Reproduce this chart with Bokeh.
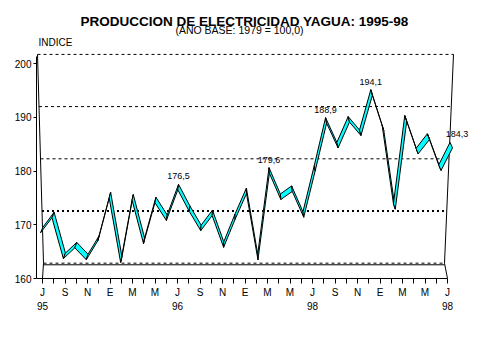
from bokeh.plotting import figure
from bokeh.models import Range1d, FixedTicker, LinearAxis, Label
from bokeh.embed import file_html
from bokeh.resources import INLINE

# ---------------- data ----------------
month_index = list(range(37))  # Jul-1995 ... Jul-1998
indice = [168.5, 171.3, 163.7, 165.7, 163.5, 167.0, 175.0, 163.0, 174.6, 166.5,
          174.1, 170.8, 176.5, 172.5, 168.9, 171.7, 165.8, 171.0, 175.8, 163.5,
          179.6, 174.7, 176.2, 171.4, 180.0, 188.9, 184.3, 189.1, 186.6, 194.1,
          187.5, 172.9, 189.3, 183.2, 185.9, 180.1, 184.3]
month_labels = ["J", "S", "N", "E", "M", "M", "J", "S", "N", "E", "M", "M",
                "J", "S", "N", "E", "M", "M", "J"]
year_ticks = [0, 12, 24, 36]
year_labels = ["95", "96", "98", "98"]
annot_idx = [12, 20, 25, 29, 36]
annot_text = ["176,5", "179,6", "188,9", "194,1", "184,3"]
y_ticks = [160, 170, 180, 190, 200]

FONT = "Liberation Sans"

# ---------------- geometry (pixel scale of the frame) ----------------
PX_X = 11.25   # px per month
PX_Y = 5.375   # px per index point
FRAME_L, FRAME_R, FRAME_T, FRAME_B = 36, 470, 0, 278
X0 = (FRAME_L - 42) / PX_X
X1 = (FRAME_R - 42) / PX_X
Y0 = 160
Y1 = 160 + (FRAME_B - FRAME_T) / PX_Y


def page_pos(px, py):
    """page pixel -> data coordinates (for layout texts)"""
    return (px - 42) / PX_X, 160 + (FRAME_B - py) / PX_Y


# 3D back wall (perspective) helpers
def back_y(v):
    return 160 + 2.85 + (v - 160) * 0.971


def back_xl(v):
    return 1 / PX_X - (v - 160) / 40 * 6 / PX_X


def back_xr(v):
    return 402 / PX_X + (v - 160) / 40 * 9 / PX_X


p = figure(width=470, height=345, x_range=Range1d(X0, X1), y_range=Range1d(Y0, Y1),
           output_backend="svg", toolbar_location=None,
           min_border_left=FRAME_L, min_border_right=0, min_border_top=0,
           min_border_bottom=345 - FRAME_B, outline_line_color=None,
           background_fill_color="white", border_fill_color="white")
p.grid.visible = False

# ---------------- back wall & floor ----------------
for v in y_ticks:
    lw, dash = (2, "2 3") if v == 170 else (1, "3 3")
    p.line([back_xl(v), back_xr(v)], [back_y(v), back_y(v)], line_color="black",
           line_width=lw, line_dash=dash)
p.line([back_xl(160), back_xl(200)], [back_y(160), back_y(200)], line_color="black")
p.line([back_xr(160), back_xr(200)], [back_y(160), back_y(200)], line_color="black")
p.line([back_xl(160), back_xr(160)], [back_y(160) - 0.3, back_y(160) - 0.3], line_color="black")
p.line([back_xr(160), month_index[-1]], [back_y(160), 160], line_color="black")
p.line([back_xl(160), month_index[0]], [back_y(160), 160], line_color="black")

# ---------------- ribbon (3D tape, perspective toward the centre) ----------------
n = len(indice)
front_dx = [(-2 + 7 * i / (n - 1)) / PX_X for i in range(n)]
back_dx = [(0.3 + 2.2 * i / (n - 1)) / PX_X for i in range(n)]
dy = 5.5 / PX_Y
xs, ys = [], []
for i in range(n - 1):
    a, b = month_index[i], month_index[i + 1]
    xs.append([a + front_dx[i], b + front_dx[i + 1], b + back_dx[i + 1], a + back_dx[i]])
    ys.append([indice[i], indice[i + 1], indice[i + 1] + dy, indice[i] + dy])
p.patches(xs, ys, fill_color="#00FFFF", line_color="black", line_width=1)

# value annotations
for i, t in zip(annot_idx, annot_text):
    p.add_layout(Label(x=month_index[i] + back_dx[i], y=indice[i] + dy, text=t,
                       text_align="center", text_baseline="bottom",
                       y_offset=5, x_offset=7 if i == month_index[-1] else 0,
                       text_font=FONT, text_font_size="9px", text_color="black"))

# ---------------- axes ----------------
xa = p.xaxis[0]
xa.ticker = FixedTicker(ticks=month_index, minor_ticks=[])
xa.major_label_overrides = {i: (month_labels[i // 2] if i % 2 == 0 else "") for i in month_index}
xa.bounds = (X0, month_index[-1])
xa.major_tick_out = 5
xa.major_tick_in = 0
xa.major_label_standoff = 3
xa.major_label_text_font = FONT
xa.major_label_text_font_size = "10px"
xa.major_label_text_color = "black"
xa.axis_line_color = "black"
xa.major_tick_line_color = "black"

ya = LinearAxis(ticker=FixedTicker(ticks=year_ticks, minor_ticks=[]))
ya.major_label_overrides = dict(zip(year_ticks, year_labels))
ya.axis_line_color = None
ya.major_tick_line_color = None
ya.major_tick_out = 0
ya.major_tick_in = 0
ya.major_label_standoff = 1
ya.major_label_text_font = FONT
ya.major_label_text_font_size = "10px"
ya.major_label_text_color = "black"
p.add_layout(ya, "below")

yax = p.yaxis[0]
yax.ticker = FixedTicker(ticks=y_ticks, minor_ticks=[])
yax.bounds = (160, 201.3)
yax.major_tick_out = 3
yax.major_tick_in = 0
yax.major_label_standoff = 2
yax.major_label_text_font = FONT
yax.major_label_text_font_size = "10px"
yax.major_label_text_color = "black"
yax.axis_line_color = "black"

# ---------------- titles ----------------
tx, ty = page_pos(244, 21)
p.add_layout(Label(x=tx, y=ty, text="PRODUCCION DE ELECTRICIDAD YAGUA: 1995-98",
                   text_align="center", text_baseline="alphabetic", text_font=FONT,
                   text_font_size="13.5px", text_font_style="bold", text_color="black"))
sx, sy = page_pos(239, 29)
p.add_layout(Label(x=sx, y=sy, text="(AÑO BASE: 1979 = 100,0)",
                   text_align="center", text_baseline="alphabetic", text_font=FONT,
                   text_font_size="10.5px", text_color="black"))
ix, iy = page_pos(38, 41.5)
p.add_layout(Label(x=ix, y=iy, text="INDICE", text_align="left", text_baseline="middle",
                   text_font=FONT, text_font_size="10px", text_color="black"))

open("out.html", "w").write(file_html(p, INLINE))
